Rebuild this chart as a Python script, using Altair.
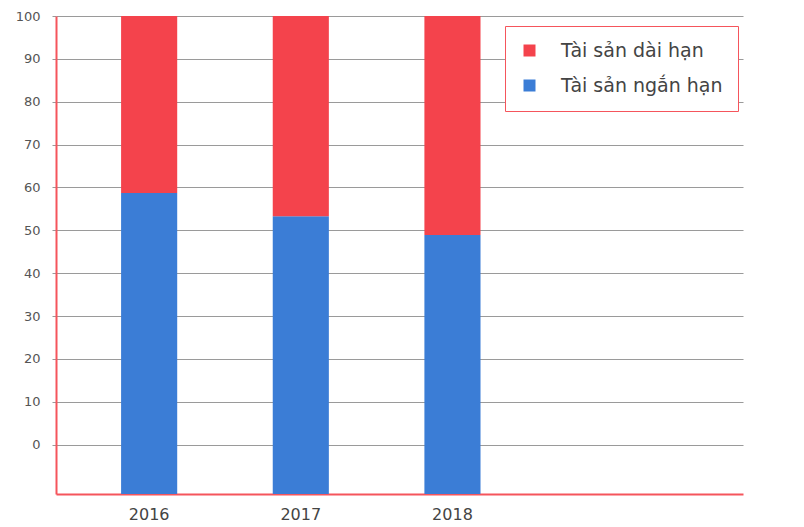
import altair as alt
import pandas as pd

years = ["2016", "2017", "2018"]
x_slots = years + [" "]          # the reference leaves a fourth, empty slot
ngan_han = [58.7, 53.3, 48.9]   # Tài sản ngắn hạn (%)
dai_han = [41.3, 46.7, 51.1]    # Tài sản dài hạn (%)
series = ["Tài sản dài hạn", "Tài sản ngắn hạn"]
colors = ["#F4434C", "#3B7DD6"]
y_ticks = [0, 10, 20, 30, 40, 50, 60, 70, 80, 90, 100]
y_min = -11.5  # the bars start at the bottom axis line, below the "0" gridline

rows = []
for yr, nh, dh in zip(years, ngan_han, dai_han):
    rows.append({"year": yr, "loai": series[1], "start": y_min, "end": nh})
    rows.append({"year": yr, "loai": series[0], "start": nh, "end": nh + dh})
df = pd.DataFrame(rows)

FONT = "DejaVu Sans"

chart = (
    alt.Chart(df)
    .mark_bar()
    .encode(
        x=alt.X(
            "year:N",
            title=None,
            scale=alt.Scale(domain=x_slots, paddingInner=0.63, paddingOuter=0.58, align=0.37),
            axis=alt.Axis(
                labelAngle=0,
                ticks=False,
                labelPadding=12,
                labelFontSize=16,
                labelColor="#444444",
                labelFont=FONT,
                domainColor="#F5555C",
                domainWidth=2,
                grid=False,
            ),
        ),
        y=alt.Y(
            "end:Q",
            title=None,
            scale=alt.Scale(domain=[y_min, 100], nice=False, zero=False),
            axis=alt.Axis(
                values=y_ticks,
                tickSize=4,
                tickColor="#999999",
                labelPadding=12,
                labelFontSize=13,
                labelColor="#555555",
                labelFont=FONT,
                domainColor="#F5555C",
                domainWidth=2,
                grid=True,
                gridColor="#9a9a9a",
                gridWidth=1.2,
            ),
        ),
        y2="start:Q",
        color=alt.Color(
            "loai:N",
            title=None,
            scale=alt.Scale(domain=series, range=colors),
            legend=alt.Legend(
                orient="none",
                legendX=449,
                legendY=10,
                strokeColor="#F5555C",
                padding=15,
                labelFontSize=19,
                labelColor="#444444",
                labelFont=FONT,
                labelOffset=22,
                symbolType="square",
                symbolSize=144,
                symbolStrokeWidth=0,
                rowPadding=15,
                labelLimit=400,
                fillColor="white",
            ),
        ),
    )
    .properties(width=687, height=478, padding={"left": 7, "top": 2, "right": 5, "bottom": 5})
    .configure_view(stroke=None)
)

chart.save("out.html", embed_options={"renderer": "svg", "actions": False})
